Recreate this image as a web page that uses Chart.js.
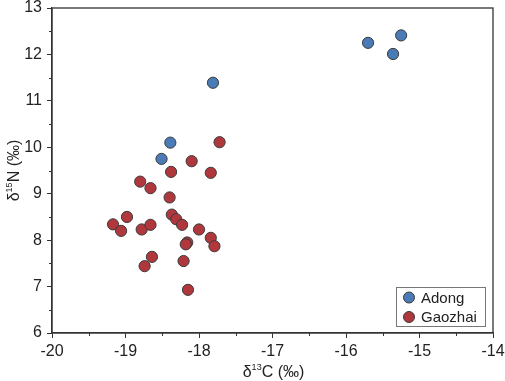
<!DOCTYPE html>
<html lang="en">
<head>
    <meta charset="utf-8">
    <title>d13C vs d15N</title>
    <script src="https://cdn.jsdelivr.net/npm/chart.js@4.4.1/dist/chart.umd.min.js"></script>
    <style>
        html, body { margin: 0; padding: 0; background: #fff; }
        #wrap { width: 505px; height: 381px; }
    </style>
</head>
<body>
<div id="wrap"><canvas id="myChart" width="505" height="381"></canvas></div>

<script>
    // data
    var adongC = [-17.81, -18.39, -18.51, -15.25, -15.70, -15.36];
    var adongN = [11.39, 10.10, 9.75, 12.41, 12.25, 12.01];

    var gaozhaiC = [-17.72, -18.10, -18.38, -17.84, -18.80, -18.66, -18.40, -19.17, -19.06, -18.98,
        -18.78, -18.66, -18.37, -18.31, -18.23, -18.00, -17.84, -17.79, -18.16, -18.18,
        -18.64, -18.74, -18.21, -18.15];
    var gaozhaiN = [10.11, 9.70, 9.47, 9.45, 9.26, 9.12, 8.92, 8.34, 8.20, 8.50,
        8.23, 8.33, 8.55, 8.45, 8.33, 8.23, 8.05, 7.87, 7.95, 7.91,
        7.64, 7.44, 7.55, 6.93];

    var xMin = -20, xMax = -14;
    var yMin = 6, yMax = 13;

    // axis titles: [before superscript, superscript, after]
    var xTitle = ["δ", "13", "C (‰)"];
    var yTitle = ["δ", "15", "N (‰)"];

    var fontFam = "'Liberation Sans', Arial, sans-serif";
    var axisCol = "#333333";
    var textCol = "#222222";

    function toPoints(xs, ys) {
        var pts = [];
        for (var i = 0; i < xs.length; i++) {
            pts.push({x: xs[i], y: ys[i]});
        }
        return pts;
    }

    function isMajor(v) {
        return Math.abs(v - Math.round(v)) < 1e-6;
    }

    // title with a small raised number, centred on (0,0) of the current transform
    function drawSupTitle(c, parts) {
        var big = "16px " + fontFam, small = "9px " + fontFam;
        c.font = big;
        var w1 = c.measureText(parts[0]).width;
        var w3 = c.measureText(parts[2]).width;
        c.font = small;
        var w2 = c.measureText(parts[1]).width;
        var x = -(w1 + w2 + w3) / 2;
        c.textBaseline = "alphabetic";
        c.textAlign = "left";
        c.fillStyle = textCol;
        c.font = big;
        c.fillText(parts[0], x, 6);
        c.font = small;
        c.fillText(parts[1], x + w1, -1);
        c.font = big;
        c.fillText(parts[2], x + w1 + w2, 6);
    }

    // frame, minor ticks, axis titles and the inside legend
    var extras = {
        id: "extras",
        afterDraw: function (chart) {
            var c = chart.ctx;
            var a = chart.chartArea;
            c.save();
            c.strokeStyle = axisCol;
            c.lineWidth = 1.3;
            c.strokeRect(a.left, a.top, a.right - a.left, a.bottom - a.top);

            // minor ticks
            c.lineWidth = 1;
            var xs = chart.scales.x, ys = chart.scales.y;
            for (var v = xMin; v <= xMax; v += 0.5) {
                if (isMajor(v)) continue;
                var px = Math.round(xs.getPixelForValue(v)) + 0.5;
                c.beginPath();
                c.moveTo(px, a.bottom);
                c.lineTo(px, a.bottom + 3);
                c.stroke();
            }
            for (var w = yMin; w <= yMax; w += 0.5) {
                if (isMajor(w)) continue;
                var py = Math.round(ys.getPixelForValue(w)) + 0.5;
                c.beginPath();
                c.moveTo(a.left, py);
                c.lineTo(a.left - 3, py);
                c.stroke();
            }

            // axis titles
            c.save();
            c.translate((a.left + a.right) / 2 + 1, 371);
            drawSupTitle(c, xTitle);
            c.restore();
            c.save();
            c.translate(13, (a.top + a.bottom) / 2);
            c.rotate(-Math.PI / 2);
            drawSupTitle(c, yTitle);
            c.restore();

            // legend box
            var bw = 89, bh = 39;
            var bx = a.right - 8 - bw, by = a.bottom - 7 - bh;
            c.fillStyle = "#ffffff";
            c.fillRect(bx, by, bw, bh);
            c.strokeStyle = "#777777";
            c.lineWidth = 1;
            c.strokeRect(bx + 0.5, by + 0.5, bw, bh);
            c.font = "15px " + fontFam;
            c.textBaseline = "middle";
            c.textAlign = "left";
            chart.data.datasets.forEach(function (ds, i) {
                var cy = by + 10.5 + i * 19.5;
                c.beginPath();
                c.arc(bx + 13, cy, 5.5, 0, Math.PI * 2);
                c.fillStyle = ds.backgroundColor;
                c.fill();
                c.strokeStyle = ds.borderColor;
                c.lineWidth = 1;
                c.stroke();
                c.fillStyle = textCol;
                c.fillText(ds.label, bx + 25, cy + 1);
            });
            c.restore();
        }
    };

    var ctx = document.getElementById("myChart").getContext("2d");
    var myChart = new Chart(ctx, {
        type: "scatter",
        data: {
            datasets: [
                {
                    label: "Adong",
                    data: toPoints(adongC, adongN),
                    backgroundColor: "#4a7bb7",
                    borderColor: "#3a3a3a",
                    borderWidth: 1,
                    pointRadius: 5.6,
                    pointHoverRadius: 5.6
                },
                {
                    label: "Gaozhai",
                    data: toPoints(gaozhaiC, gaozhaiN),
                    backgroundColor: "#b0383d",
                    borderColor: "#3a3a3a",
                    borderWidth: 1,
                    pointRadius: 5.6,
                    pointHoverRadius: 5.6
                }
            ]
        },
        options: {
            responsive: false,
            animation: false,
            layout: {padding: 0},
            plugins: {
                legend: {display: false},
                tooltip: {enabled: false}
            },
            scales: {
                x: {
                    type: "linear",
                    min: xMin,
                    max: xMax,
                    border: {color: axisCol, width: 1.3},
                    grid: {
                        drawOnChartArea: false,
                        tickLength: 5,
                        tickColor: function (c) { return isMajor(c.tick.value) ? axisCol : "rgba(0,0,0,0)"; }
                    },
                    ticks: {
                        stepSize: 0.5,
                        autoSkip: false,
                        maxRotation: 0,
                        padding: 4,
                        color: textCol,
                        font: {family: fontFam, size: 16},
                        callback: function (v) { return isMajor(v) ? String(Math.round(v)) : ""; }
                    },
                    afterFit: function (s) {
                        s.height = 48;
                        s.paddingRight = 12;
                        s.paddingLeft = 0;
                    }
                },
                y: {
                    type: "linear",
                    min: yMin,
                    max: yMax,
                    border: {color: axisCol, width: 1.3},
                    grid: {
                        drawOnChartArea: false,
                        tickLength: 5,
                        tickColor: function (c) { return isMajor(c.tick.value) ? axisCol : "rgba(0,0,0,0)"; }
                    },
                    ticks: {
                        stepSize: 0.5,
                        autoSkip: false,
                        padding: 5,
                        color: textCol,
                        font: {family: fontFam, size: 16},
                        callback: function (v) { return isMajor(v) ? String(Math.round(v)) : ""; }
                    },
                    afterFit: function (s) {
                        s.width = 52;
                        s.paddingTop = 8;
                        s.paddingBottom = 0;
                    }
                }
            }
        },
        plugins: [extras]
    });
</script>
</body>
</html>
